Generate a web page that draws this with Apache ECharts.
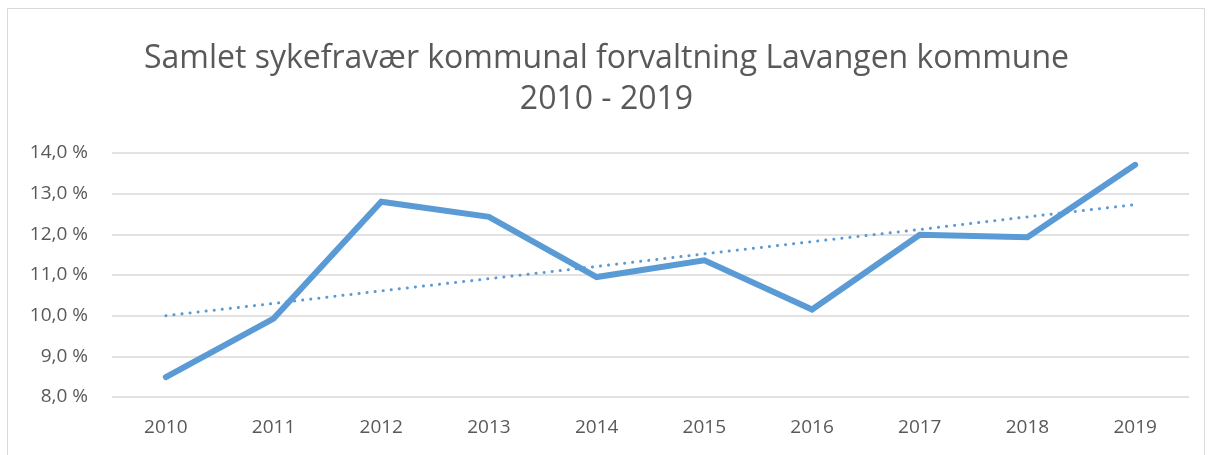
<!DOCTYPE html>
<html>
<head>
<meta charset="utf-8">
<script src="https://cdn.jsdelivr.net/npm/echarts@6/dist/echarts.min.js"></script>
<style>
  html, body { margin: 0; padding: 0; background: #fff; }
  #chart { width: 1213px; height: 455px; }
</style>
</head>
<body>
<div id="chart"></div>
<script>
var years = ['2010', '2011', '2012', '2013', '2014', '2015', '2016', '2017', '2018', '2019'];
// sick leave, percent
var sickLeave = [8.49, 9.93, 12.80, 12.43, 10.95, 11.36, 10.15, 11.99, 11.93, 13.71];
// linear trend line as drawn in the original
var trend = [10.00, 10.30, 10.61, 10.91, 11.21, 11.52, 11.82, 12.12, 12.43, 12.73];

var chartDom = document.getElementById('chart');
var chart = echarts.init(chartDom);

var option = {
    backgroundColor: '#fff',
    animation: false,
    graphic: [
        {
            type: 'rect',
            shape: { x: 7.5, y: 8.5, width: 1197, height: 470 },
            style: { fill: 'none', stroke: '#d9d9d9', lineWidth: 1 }
        }
    ],
    title: {
        text: 'Samlet sykefravær kommunal forvaltning Lavangen kommune\n2010 - 2019',
        left: 'center',
        top: 33,
        textStyle: {
            fontFamily: 'Open Sans',
            fontWeight: 'normal',
            fontSize: 32,
            color: '#595959',
            lineHeight: 41
        }
    },
    grid: {
        left: 112,
        right: 24,
        top: 153,
        bottom: 58
    },
    xAxis: {
        type: 'category',
        data: years,
        boundaryGap: true,
        axisLine: { show: false },
        axisTick: { show: false },
        axisLabel: {
            color: '#595959',
            fontFamily: 'Open Sans',
            fontSize: 19,
            margin: 21
        }
    },
    yAxis: {
        type: 'value',
        min: 8,
        max: 14,
        interval: 1,
        axisLine: { show: false },
        axisTick: { show: false },
        splitLine: { lineStyle: { color: '#d9d9d9', width: 1.5 } },
        axisLabel: {
            color: '#595959',
            fontFamily: 'Open Sans',
            fontSize: 19,
            margin: 24,
            formatter: function (v) {
                return v.toFixed(1).replace('.', ',') + ' %';
            }
        }
    },
    series: [
        {
            type: 'line',
            data: sickLeave,
            symbol: 'none',
            lineStyle: { color: '#5b9bd5', width: 6, cap: 'round', join: 'miter' },
            z: 3
        },
        {
            type: 'line',
            data: trend,
            symbol: 'none',
            lineStyle: { color: '#5b9bd5', width: 3, type: [0.1, 8], cap: 'round' },
            z: 2
        }
    ]
};
chart.setOption(option);
</script>
</body>
</html>
